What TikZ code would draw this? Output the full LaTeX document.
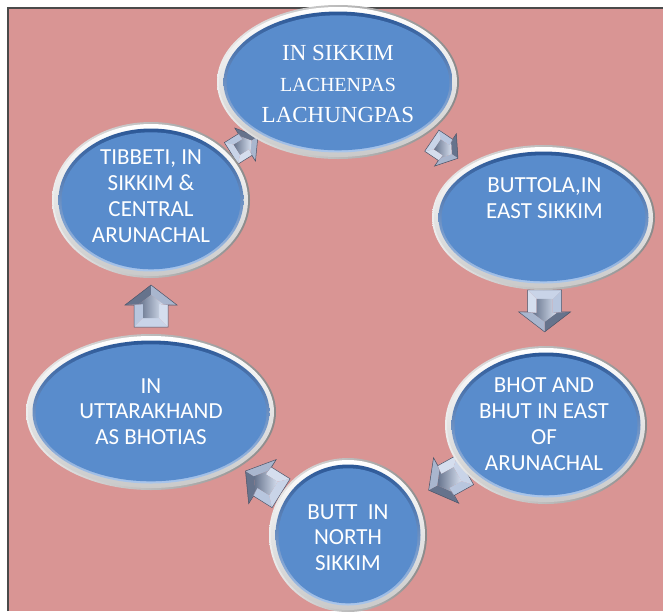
\documentclass[tikz,border=0pt]{standalone}
\usepackage{fontspec}
\setmainfont{Carlito}
\newfontfamily\serifface{Liberation Serif}
\usetikzlibrary{calc}
\definecolor{bgpink}{HTML}{D99594}
\definecolor{framegray}{HTML}{4A4A4A}
\definecolor{rimdark}{HTML}{8A8A8A}
\definecolor{rimlight}{HTML}{EDEDED}
\definecolor{ringdark}{HTML}{2C5897}
\definecolor{ringlight}{HTML}{A9C6EC}
\definecolor{bodyblue}{HTML}{598CCC}
\definecolor{arA}{HTML}{B8C6DE}
\definecolor{arB}{HTML}{8E9BB5}
\definecolor{arC}{HTML}{66738C}
\definecolor{arD}{HTML}{A9B6CE}
\definecolor{arE}{HTML}{D5DEEE}
\definecolor{arF}{HTML}{C9D4E8}
\definecolor{arLine}{HTML}{4A5468}
\tikzset{
  bubtext/.style={text=white, align=center, inner sep=0pt,
    font=\fontsize{23}{25.8}\selectfont},
  rimouter/.style={left color=rimlight, right color=rimdark},
  riminner/.style={top color=white, bottom color=rimlight!85!black},
  ringblue/.style={top color=ringdark, bottom color=ringlight},
  bodyfill/.style={fill=bodyblue},
  blockarrow/.pic={
    \fill[arA] (-21,-17) -- (1,-17) -- (2,-8) -- (-12,-8) -- cycle;
    \fill[arB] (1,-17) -- (1,-26) -- (2,-12) -- (2,-8) -- cycle;
    \fill[arC] (1,-26) -- (21,0) -- (11,0) -- (2,-12) -- cycle;
    \fill[arD] (21,0) -- (1,26) -- (2,12) -- (11,0) -- cycle;
    \fill[arB] (1,26) -- (1,17) -- (2,8) -- (2,12) -- cycle;
    \fill[arE] (1,17) -- (-21,17) -- (-12,8) -- (2,8) -- cycle;
    \fill[arF] (-21,17) -- (-21,-17) -- (-12,-8) -- (-12,8) -- cycle;
    \shade[left color=arC, right color=arE] (-12,-8) -- (2,-8) -- (2,-12) -- (11,0) -- (2,12) -- (2,8) -- (-12,8) -- cycle;
    \draw[arLine, line width=0.5pt, line join=miter] (-21,-17) -- (1,-17) -- (1,-26) -- (21,0) -- (1,26) -- (1,17) -- (-21,17) -- cycle;
  }
}
\newcommand{\bubble}[3]{%
  \shade[rimouter] (#1) ellipse [x radius=#2pt, y radius=#3pt];
  \shade[riminner] (#1) ellipse [x radius=#2pt-2pt, y radius=#3pt-2pt];
  \shade[ringblue] (#1) ellipse [x radius=#2pt-6.5pt, y radius=#3pt-6.5pt];
  \fill[bodyfill] ($(#1)+(0,0.8)$) ellipse [x radius=#2pt-9.5pt, y radius=#3pt-9.5pt];
}
\begin{document}
\begin{tikzpicture}[x=1pt,y=-1pt]
\useasboundingbox (0,0) rectangle (663,611);
\fill[white] (0,0) rectangle (663,611);
\fill[bgpink] (8,8) rectangle (663,611);
\draw[framegray, line width=1.3pt] (8,611) -- (8,8) -- (663,8);

\coordinate (top) at (338,82);
\coordinate (but) at (543.5,217.5);
\coordinate (bho) at (546,425);
\coordinate (btt) at (348,535);
\coordinate (utt) at (151,412);
\coordinate (tib) at (151,200);

% block arrows between the bubbles
\pic[rotate=32, scale=0.75] at ($(tib)!0.5!(top)+(0,4)$) {blockarrow};
\pic[rotate=-34, scale=0.75] at ($(top)!0.52!(but)+(0,-3)$) {blockarrow};
\pic[rotate=-90] at ($(but)!0.45!(bho)$) {blockarrow};
\pic[rotate=209] at ($(bho)!0.5!(btt)$) {blockarrow};
\pic[rotate=148] at ($(btt)!0.43!(utt)$) {blockarrow};
\pic[rotate=90] at ($(utt)!0.5!(tib)$) {blockarrow};

% bubbles
\bubble{top}{121}{77}
\bubble{but}{111.5}{72.5}
\bubble{bho}{101}{79}
\bubble{btt}{79}{77}
\bubble{utt}{125}{78}
\bubble{tib}{99}{78}

% texts
\node[bubtext, font=\serifface\fontsize{23}{31}\selectfont] (ttop) at ($(top)+(0,1.5)$)
  {IN SIKKIM\\{\fontsize{20}{31}\selectfont LACHENPAS}\\LACHUNGPAS};
\node[bubtext] (tbut) at ($(but)+(1,-19.5)$) {BUTTOLA,IN\\EAST SIKKIM};
\node[bubtext] (tbho) at ($(bho)+(-2,-1)$) {BHOT AND\\BHUT IN EAST\\OF\\ARUNACHAL};
\node[bubtext] (tbtt) at ($(btt)+(0,2.5)$) {BUTT\ \ IN\\NORTH\\SIKKIM};
\node[bubtext] (tutt) at ($(utt)+(0,-0.5)$) {IN\\UTTARAKHAND\\AS BHOTIAS};
\node[bubtext] (ttib) at ($(tib)+(0,-4)$) {TIBBETI, IN\\SIKKIM \&\\CENTRAL\\ARUNACHAL};
\end{tikzpicture}
\end{document}
